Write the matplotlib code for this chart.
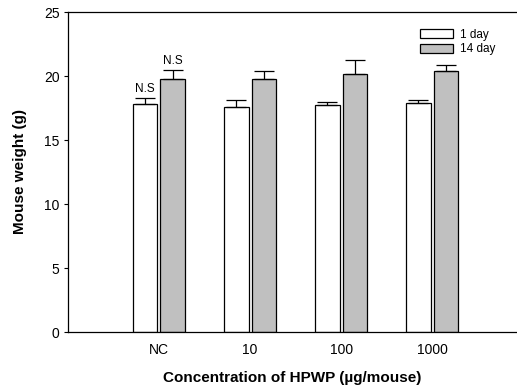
import numpy as np
import matplotlib.pyplot as plt

plt.rcParams['font.family'] = ['Liberation Sans', 'DejaVu Sans']

# data
groups = ['NC', '10', '100', '1000']
day1 = [17.8, 17.6, 17.7, 17.9]
day1_err = [0.45, 0.55, 0.3, 0.25]
day14 = [19.75, 19.75, 20.15, 20.4]
day14_err = [0.7, 0.65, 1.1, 0.45]
labels = ['1 day', '14 day']

fig = plt.figure(figsize=(5.17, 3.9), dpi=100)
ax = fig.add_axes([68 / 517, 58 / 390, 1 - 68 / 517, 320 / 390])

x = np.arange(1, len(groups) + 1)
w = 0.27
ax.bar(x - 0.153, day1, w, color='white', edgecolor='black', linewidth=0.9,
       yerr=[np.zeros(4), day1_err], capsize=7,
       error_kw=dict(elinewidth=0.9, capthick=0.9, ecolor='black'), label=labels[0])
ax.bar(x + 0.15, day14, w, color='#c0c0c0', edgecolor='black', linewidth=0.9,
       yerr=[np.zeros(4), day14_err], capsize=7,
       error_kw=dict(elinewidth=0.9, capthick=0.9, ecolor='black'), label=labels[1])

# significance labels on the control group
ax.text(x[0] - 0.153, day1[0] + day1_err[0] + 0.25, 'N.S', ha='center', va='bottom', fontsize=8.5)
ax.text(x[0] + 0.15, day14[0] + day14_err[0] + 0.25, 'N.S', ha='center', va='bottom', fontsize=8.5)

ax.set_xlim(0, 4.93)
ax.set_ylim(0, 25)
ax.set_yticks([0, 5, 10, 15, 20, 25])
ax.set_xticks(x)
ax.set_xticklabels(groups)
ax.tick_params(axis='y', direction='out', length=3, labelsize=10, pad=3)
ax.tick_params(axis='x', length=0, labelsize=10, pad=8)
ax.spines['right'].set_visible(False)
for s in ['left', 'top', 'bottom']:
    ax.spines[s].set_linewidth(0.9)

ax.set_ylabel('Mouse weight (g)', fontsize=11, fontweight='bold', labelpad=12)
ax.set_xlabel('Concentration of HPWP (\u00b5g/mouse)', fontsize=11, fontweight='bold', labelpad=10)

ax.legend(loc='upper right', bbox_to_anchor=(0.975, 0.98), frameon=False, fontsize=8.5,
          handlelength=2.8, handleheight=0.8, handletextpad=0.6, labelspacing=0.2)

plt.savefig('out.png', dpi=100)
